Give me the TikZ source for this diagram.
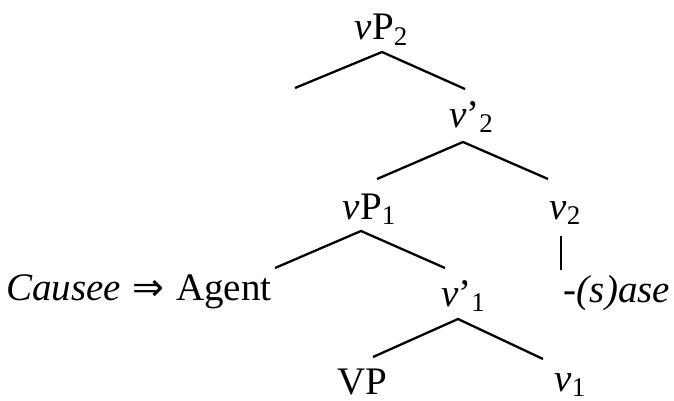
\documentclass[tikz,border=0pt]{standalone}
\usepackage{fontspec}
\setmainfont{Liberation Serif}
\newfontfamily\symfont{DejaVu Sans}
\newcommand\lbl[1]{\raisebox{-0.3ex}{\fontsize{13.5}{13.5}\selectfont #1}}
\begin{document}
\begin{tikzpicture}[x=0.5pt,y=-0.5pt,
  lab/.style={inner sep=0pt,anchor=base,font=\fontsize{19.5}{22}\selectfont},
  br/.style={line width=1.15pt}]
\useasboundingbox (0,0) rectangle (674,401);
% row 1
\node[lab] (vP2) at (381,40) {\textit{v}P\lbl{2}};
\coordinate (a1) at (382,52);
% row 2
\node[lab] (v2p) at (471,127) {\textit{v}’\lbl{2}};
\coordinate (a2) at (463,142);
% row 3
\node[lab] (vP1) at (369,219) {\textit{v}P\lbl{1}};
\coordinate (a3) at (361,231);
\node[lab] (v2) at (565,219) {\textit{v}\lbl{2}};
% row 4
\node[lab,anchor=base east] (ag) at (272,300) {\textit{Causee}\hspace{0.3em}{\symfont\fontsize{19}{19}\selectfont ⇒}\hspace{0.3em}Agent};
\node[lab] (v1p) at (463,306) {\textit{v}’\lbl{1}};
\coordinate (a4) at (458,319);
\node[lab] (ase) at (617,302) {-\textit{(s)ase}};
% row 5
\node[lab] (VP) at (362,394) {VP};
\node[lab] (v1) at (570,391) {\textit{v}\lbl{1}};
% branches
\draw[br] (295,88) -- (a1) -- (465,89);
\draw[br] (377,179) -- (a2) -- (548,179);
\draw[br] (275,268) -- (a3) -- (445,268);
\draw[br] (561,236) -- (561,270);
\draw[br] (373,357) -- (a4) -- (543,359);
\end{tikzpicture}
\end{document}
